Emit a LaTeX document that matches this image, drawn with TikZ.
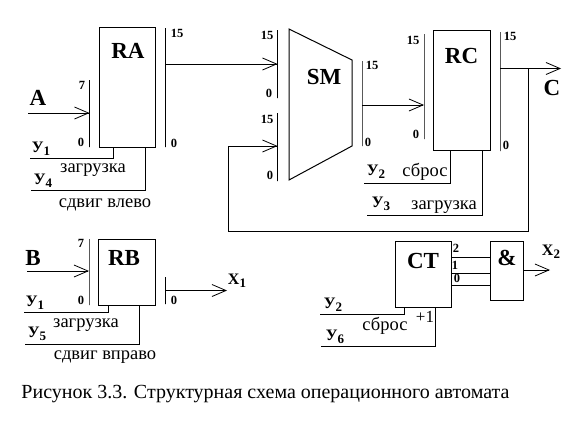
\documentclass[tikz,border=0pt]{standalone}
\usepackage{fontspec}
\setmainfont{Liberation Serif}
\usetikzlibrary{arrows.meta}
\newcommand{\sigY}[1]{\fontsize{16}{16}\selectfont\textbf{У}\raisebox{-3.5pt}{\fontsize{13}{13}\selectfont\textbf{#1}}}
\newcommand{\sigX}[1]{\fontsize{16}{16}\selectfont\textbf{X}\raisebox{-3.5pt}{\fontsize{13}{13}\selectfont\textbf{#1}}}
\tikzset{
  x=1pt,y=-1pt,
  wire/.style={draw=black,line width=1pt,line cap=rect},
  arr/.style={wire,-{Straight Barb[length=14pt,width=12pt,line width=0.8pt]}},
  box/.style={draw=black,line width=1pt,fill=white,inner sep=0pt,outer sep=0pt},
  bar/.style={draw=black,line width=1pt,inner sep=0pt,outer sep=0pt,minimum width=0pt},
  big/.style={inner sep=0pt,font=\fontsize{23}{23}\selectfont\bfseries},
  num/.style={inner sep=0pt,font=\fontsize{12.5}{13}\selectfont\bfseries},
  note/.style={inner sep=0pt,font=\fontsize{18.5}{18.5}\selectfont},
  sig/.style={inner sep=0pt},
}
\begin{document}
\begin{tikzpicture}
\fill[white] (0,0) rectangle (576,423);
\useasboundingbox (0,0) rectangle (576,423);
% registers
\node[box,minimum width=56pt,minimum height=120pt] (RA) at (127,87) {};
\node[box,minimum width=57pt,minimum height=120pt] (RC) at (461.5,90) {};
\node[box,minimum width=57pt,minimum height=66pt] (RB) at (126.5,272) {};
\node[box,minimum width=56pt,minimum height=66pt] (CT) at (423,274) {};
\node[box,minimum width=33pt,minimum height=59pt] (AND) at (506.5,270.5) {};
\draw[wire] (289,29) -- (352,60) -- (352,146) -- (289,180) -- cycle;
% bars
\node[bar,minimum height=67pt] (raIn) at (89.5,113.5) {};
\node[bar,minimum height=119pt] (raOut) at (165.5,87.5) {};
\node[bar,minimum height=68pt] (smA) at (277.5,64) {};
\node[bar,minimum height=68pt] (smB) at (277.5,147) {};
\node[bar,minimum height=85pt] (smOut) at (362,103.5) {};
\node[bar,minimum height=105pt] (rcIn) at (424,86.5) {};
\node[bar,minimum height=119pt] (rcOut) at (500,91.5) {};
\node[bar,minimum height=66pt] (rbIn) at (89,272) {};
\node[bar,minimum height=27pt] (rbOut) at (165.5,290.5) {};
% free ends
\coordinate (aS) at (28,113);
\coordinate (bS) at (27,271);
\coordinate (cE) at (561,68.5);
\coordinate (x1E) at (227,290.5);
\coordinate (x2E) at (550,270);
\coordinate (fbTap) at (528,68.5);
\coordinate (fbEnd) at (228,146);
\coordinate (y1a) at (30,158);
\coordinate (y4a) at (31,190.5);
\coordinate (y2c) at (364,183);
\coordinate (y3c) at (367,215);
\coordinate (y1b) at (24,312);
\coordinate (y5b) at (25,344);
\coordinate (y2t) at (320,314);
\coordinate (y6t) at (321,346);
% data connectors
\draw[arr] (aS) -- (raIn.center |- aS);
\draw[arr] (raOut.center |- smA.center) -- (smA.center);
\draw[arr] (smOut.center |- 0,105) -- (rcIn.center |- 0,105);
\draw[arr] (rcOut.center |- cE) -- (cE);
\draw[arr] (fbTap) -- (fbTap |- 0,231) -- (fbEnd |- 0,231) -- (fbEnd) -- (smB.center |- fbEnd);
\draw[arr] (bS) -- (rbIn.center |- bS);
\draw[arr] (rbOut.center) -- (x1E);
\draw[arr] (AND.east |- x2E) -- (x2E);
\draw[wire] (CT.east |- 0,257) -- (AND.west |- 0,257);
\draw[wire] (CT.east |- 0,273) -- (AND.west |- 0,273);
\draw[wire] (CT.east |- 0,285) -- (AND.west |- 0,285);
% control connectors
\draw[wire] (y1a) -- (113.5,158) -- (113.5,147);
\draw[wire] (y4a) -- (145.5,190.5) -- (145.5,147);
\draw[wire] (y2c) -- (450,183) -- (450,150);
\draw[wire] (y3c) -- (482,215) -- (482,150);
\draw[wire] (y1b) -- (108,312) -- (108,305);
\draw[wire] (y5b) -- (139,344) -- (139,305);
\draw[wire] (y2t) -- (404,314) -- (404,307);
\draw[wire] (y6t) -- (435,346) -- (435,307);
% block labels
\node[big] (tRA) at (128,51) {RA};
\node[big] (tRC) at (461.5,56) {RC};
\node[big] (tSM) at (324,77) {SM};
\node[big] (tRB) at (124,258) {RB};
\node[big] (tCT) at (423,261) {CT};
\node[big] (tAND) at (507,258) {\&};
\node[big] (tA) at (38,98) {A};
\node[big] (tB) at (33,258) {B};
\node[big] (tC) at (552,88) {C};
% bit numbers
\node[num] (n1) at (82,85) {7};
\node[num] (n2) at (81,142) {0};
\node[num] (n3) at (177,33) {15};
\node[num] (n4) at (174,143) {0};
\node[num] (n5) at (267,35) {15};
\node[num] (n6) at (269,93) {0};
\node[num] (n7) at (267,119) {15};
\node[num] (n8) at (270,175) {0};
\node[num] (n9) at (372,65) {15};
\node[num] (n10) at (368,142) {0};
\node[num] (n11) at (413,40) {15};
\node[num] (n12) at (416,134) {0};
\node[num] (n13) at (510,36) {15};
\node[num] (n14) at (506,145) {0};
\node[num] (n15) at (81,243) {7};
\node[num] (n16) at (81,300) {0};
\node[num] (n17) at (174,300) {0};
\node[num] (n18) at (456,248) {2};
\node[num] (n19) at (455,265) {1};
\node[num] (n20) at (457,278) {0};
% signals
\node[sig] (s1) at (41,149) {\sigY{1}};
\node[sig] (s2) at (43,181) {\sigY{4}};
\node[sig] (s3) at (376,172) {\sigY{2}};
\node[sig] (s4) at (381,204) {\sigY{3}};
\node[sig] (s5) at (35,303) {\sigY{1}};
\node[sig] (s6) at (37,334) {\sigY{5}};
\node[sig] (s7) at (333,305) {\sigY{2}};
\node[sig] (s8) at (335,337) {\sigY{6}};
\node[sig] (x1) at (237,281) {\sigX{1}};
\node[sig] (x2) at (551,252) {\sigX{2}};
% notes
\node[note] (z1) at (93,170) {загрузка};
\node[note] (z2) at (105,205) {сдвиг влево};
\node[note] (z3) at (425,172) {сброс};
\node[note] (z4) at (444,207) {загрузка};
\node[note] (z5) at (86,325) {загрузка};
\node[note] (z6) at (105,357) {сдвиг вправо};
\node[note] (z7) at (385,326) {сброс};
\node[note,font=\fontsize{17}{17}\selectfont] (z8) at (425,317) {+1};
\node[inner sep=0pt,font=\fontsize{20}{20}\selectfont] (cap) at (265.5,394) {Рисунок 3.3. Структурная схема операционного автомата};
\end{tikzpicture}
\end{document}
